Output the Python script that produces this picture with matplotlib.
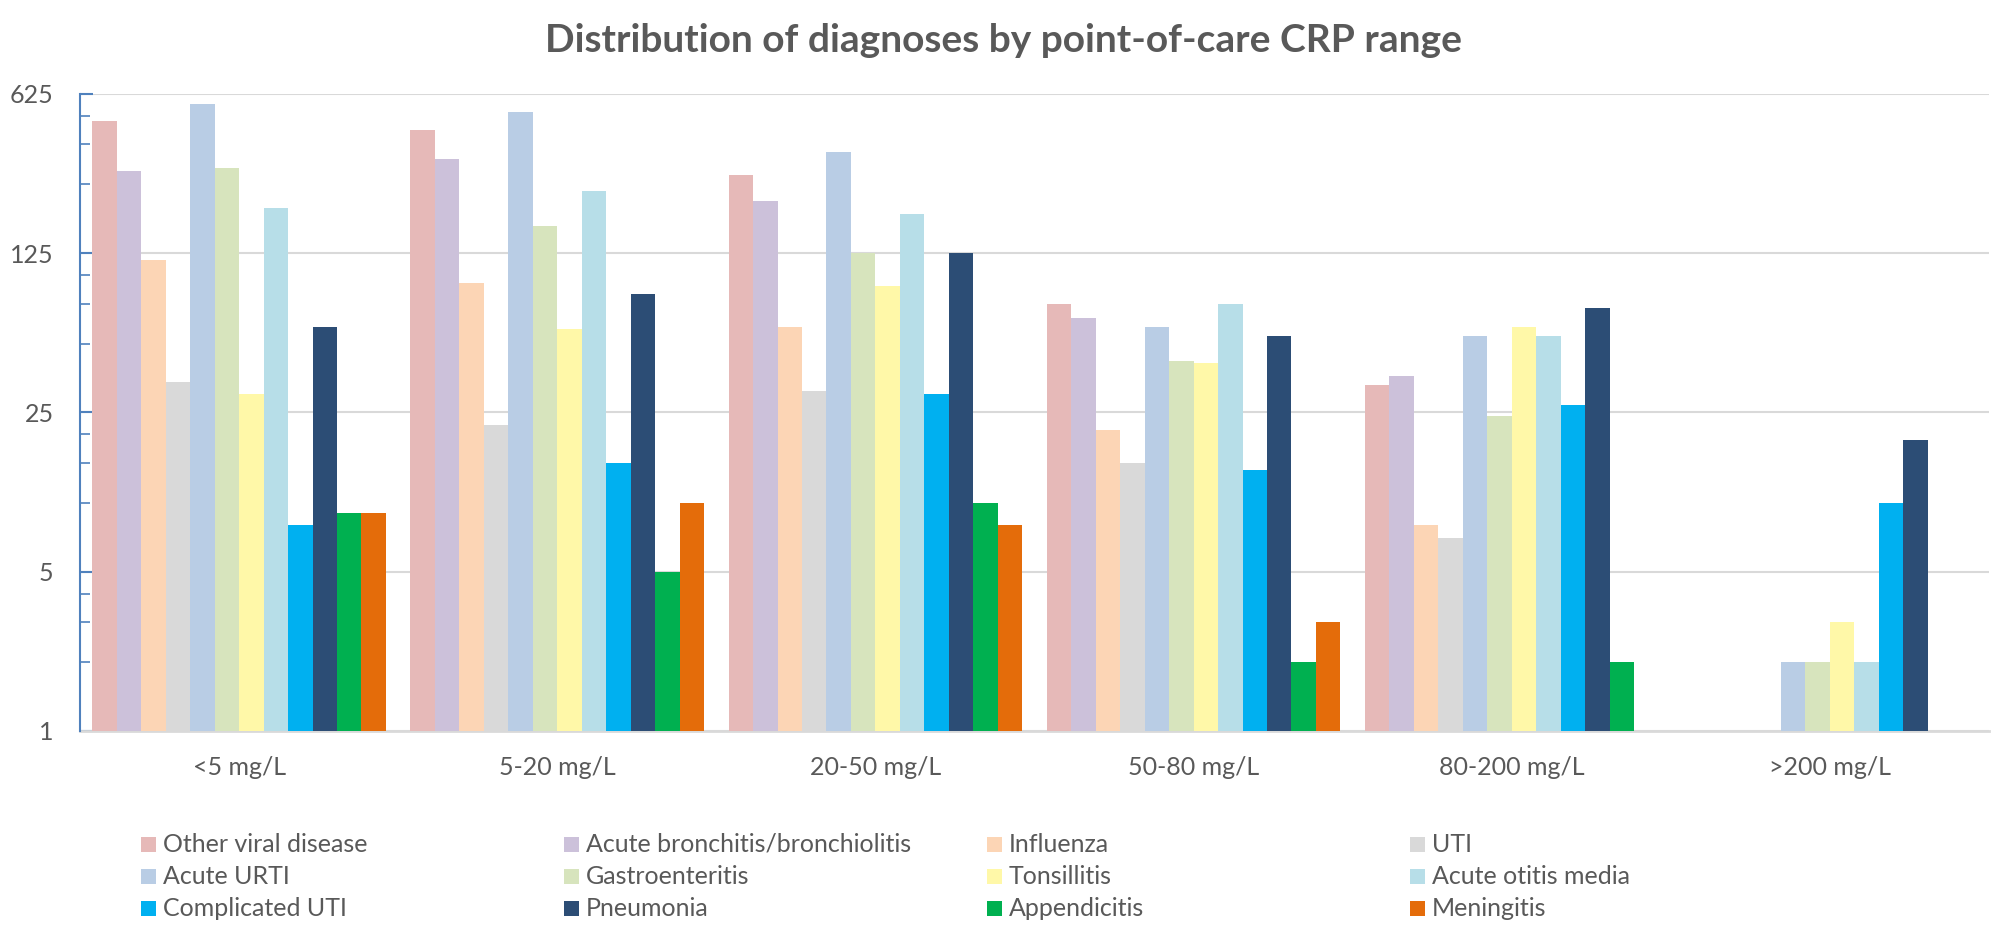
import numpy as np
import matplotlib
matplotlib.use("Agg")
import matplotlib.pyplot as plt
from matplotlib.patches import Rectangle
from matplotlib.ticker import FixedLocator, LogLocator, NullFormatter

plt.rcParams['font.family'] = ['Lato', 'DejaVu Sans']

# CRP ranges (x categories)
crp_ranges = ['<5 mg/L', '5-20 mg/L', '20-50 mg/L', '50-80 mg/L', '80-200 mg/L', '>200 mg/L']

# number of patients per diagnosis in each CRP range (nan = no bar)
nan = np.nan
other_viral = [472, 433, 275, 75, 33, nan]
bronchitis = [286, 323, 212, 65, 36, nan]
influenza = [117, 92, 59, 21, 8, nan]
uti = [34, 22, 31, 15, 7, nan]
acute_urti = [564, 517, 346, 59, 54, 2]
gastroenteritis = [295, 164, 125, 42, 24, 2]
tonsillitis = [30, 58, 90, 41, 59, 3]
otitis_media = [197, 234, 186, 75, 54, 2]
complicated_uti = [8, 15, 30, 14, 27, 10]
pneumonia = [59, 83, 125, 54, 72, 19]
appendicitis = [9, 5, 10, 2, 2, nan]
meningitis = [9, 10, 8, 3, nan, nan]

diagnoses = ['Other viral disease', 'Acute bronchitis/bronchiolitis', 'Influenza', 'UTI',
             'Acute URTI', 'Gastroenteritis', 'Tonsillitis', 'Acute otitis media',
             'Complicated UTI', 'Pneumonia', 'Appendicitis', 'Meningitis']
series = [other_viral, bronchitis, influenza, uti, acute_urti, gastroenteritis,
          tonsillitis, otitis_media, complicated_uti, pneumonia, appendicitis, meningitis]
colors = ['#E6B9B8', '#CCC1DA', '#FCD5B5', '#D9D9D9', '#B9CDE5', '#D7E4BD',
          '#FFF8A8', '#B7DEE8', '#00B0F0', '#2C4D75', '#00B050', '#E46C0A']

text_color = '#595959'
W, H = 2008, 939

fig = plt.figure(figsize=(W / 100, H / 100), dpi=100)
ax = fig.add_axes([80 / W, 1 - 731 / H, (1989 - 80) / W, (731 - 93.7) / H])

x = np.arange(len(crp_ranges))
width = 1 / 13
for i, (vals, col) in enumerate(zip(series, colors)):
    ax.bar(x + (i - 5.5) * width, vals, width=width, color=col, label=diagnoses[i],
           linewidth=0, zorder=3)

ax.set_yscale('log', base=5)
ax.set_ylim(1, 625)
ax.set_xlim(-0.5, len(crp_ranges) - 0.5)
ax.yaxis.set_major_locator(FixedLocator([1, 5, 25, 125, 625]))
ax.set_yticklabels(['1', '5', '25', '125', '625'])
ax.yaxis.set_minor_locator(LogLocator(base=5, subs=(2, 3, 4)))
ax.yaxis.set_minor_formatter(NullFormatter())

ax.set_xticks(x)
ax.set_xticklabels(crp_ranges)
ax.tick_params(axis='x', length=0, pad=18, labelsize=18, labelcolor=text_color)
ax.tick_params(axis='y', which='major', direction='in', length=9, width=1.5,
               color='#4F81BD', pad=19, labelsize=18, labelcolor=text_color)
ax.tick_params(axis='y', which='minor', direction='in', length=7, width=1.2,
               color='#4F81BD')

ax.grid(axis='y', which='major', color='#D9D9D9', linewidth=1.5, zorder=0)
ax.set_axisbelow(True)
for s in ['top', 'right']:
    ax.spines[s].set_visible(False)
ax.spines['left'].set_color('#4F81BD')
ax.spines['left'].set_linewidth(1.5)
ax.spines['bottom'].set_color('#D9D9D9')
ax.spines['bottom'].set_linewidth(2)
ax.spines['left'].set_zorder(4)

fig.text(0.5, 1 - 40 / H, 'Distribution of diagnoses by point-of-care CRP range',
         ha='center', va='center', fontsize=28, fontweight='bold', color=text_color)

# legend: 4 evenly spaced columns, like the original
for i, (name, col) in enumerate(zip(diagnoses, colors)):
    lx = 141 + (i % 4) * 423
    ly = 844 + (i // 4) * 32
    fig.add_artist(Rectangle((lx / W, 1 - (ly + 8) / H), 15 / W, 15 / H,
                             transform=fig.transFigure, color=col, linewidth=0))
    fig.text((lx + 22) / W, 1 - ly / H, name, ha='left', va='center',
             fontsize=18, color=text_color)

fig.savefig('out.png', dpi=100, facecolor='white')
